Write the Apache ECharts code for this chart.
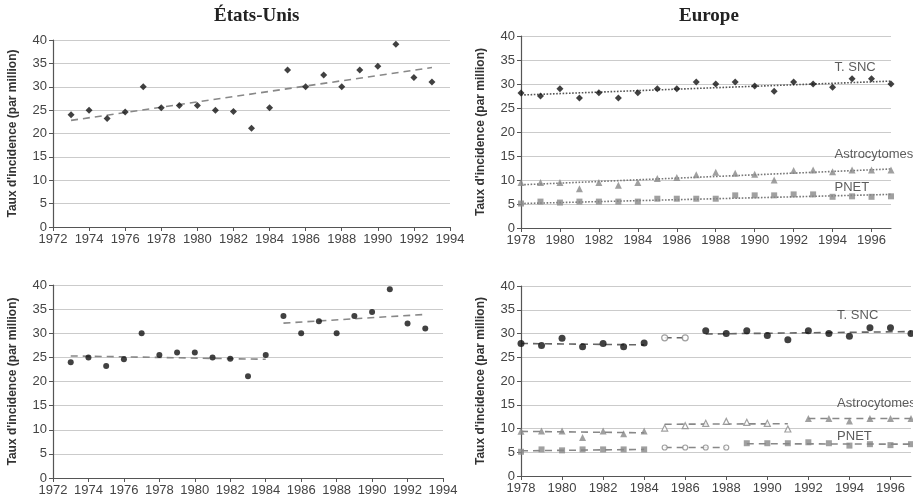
<!DOCTYPE html>
<html><head><meta charset="utf-8">
<script src="https://cdn.jsdelivr.net/npm/echarts@6/dist/echarts.min.js"></script>
<style>html,body{margin:0;padding:0;background:#fff}#c{width:913px;height:502px}</style>
</head><body><div id="c"></div>
<script>
// ---- data ----
const usYears = [1973,1974,1975,1976,1977,1978,1979,1980,1981,1982,1983,1984,1985,1986,1987,1988,1989,1990,1991,1992,1993];
const usRates = [24,25,23.2,24.6,30,25.5,26,26,25,24.7,21.1,25.5,33.6,30,32.5,30,33.6,34.4,39.1,32,31];
const usTrendYears = [1973,1993];
const usTrend = [22.8,34.1];
const usSegYearsA = [1973,1984];
const usSegA = [25.3,24.6];
const usSegYearsB = [1985,1993];
const usSegB = [32.1,33.9];

const euYears = [1978,1979,1980,1981,1982,1983,1984,1985,1986,1987,1988,1989,1990,1991,1992,1993,1994,1995,1996,1997];
const euSnc = [28.1,27.5,29,27.1,28.2,27.1,28.2,29,29,30.4,30,30.4,29.6,28.5,30.4,30,29.3,31.1,31.1,30];
const euAstro = [9.5,9.5,9.5,8.2,9.5,8.9,9.5,10.3,10.5,11.1,11.6,11.4,11.2,10,12,12.1,11.7,12.1,12.1,12.1];
const euPnet = [5.1,5.5,5.3,5.5,5.5,5.5,5.5,6.1,6.1,6.1,6.1,6.8,6.8,6.8,7,7,6.5,6.6,6.5,6.6];
const euTrendYears = [1978,1997];
const euSncTrend = [27.7,30.6];
const euAstroTrend = [9.0,12.3];
const euPnetTrend = [5.1,7.0];

// bottom-right (periods)
const euSnc2 = [27.9,27.5,29,27.2,27.9,27.2,28,29.1,29.1,30.6,30,30.6,29.6,28.7,30.6,30,29.4,31.2,31.2,30];
const euAstro2 = [9.4,9.5,9.5,8.1,9.5,8.9,9.5,10.1,10.6,11.1,11.5,11.3,11.1,9.9,12.1,12.1,11.6,12.1,12.1,12.1];
const euPnet2 = [5.1,5.6,5.4,5.6,5.6,5.6,5.6,6.0,6.0,6.0,6.0,6.9,6.9,6.9,7.1,6.9,6.4,6.7,6.5,6.7];
// period boundaries [startYear, endYear, open?]
const sncPeriods = [[1978,1984,false],[1985,1986,true],[1987,1997,false]];
const astroPeriods = [[1978,1984,false],[1985,1991,true],[1992,1997,false]];
const pnetPeriods = [[1978,1984,false],[1985,1988,true],[1989,1997,false]];
const sncSegs = [[27.9,27.6],[29.1,29.1],[29.9,30.4]];
const astroSegs = [[9.4,9.1],[10.9,11.0],[12.1,12.1]];
const pnetSegs = [[5.3,5.6],[6.0,6.0],[6.8,6.7]];

const titles = ['États-Unis','Europe'];
const yName = "Taux d'incidence (par million)";
const seriesLabels = ['T. SNC','Astrocytomes','PNET'];
const labelPosTop = [[1994.1,33.5],[1994.1,15.4],[1994.1,8.5]];
const labelPosBottom = [[1993.4,33.9],[1993.4,15.2],[1993.4,8.4]];

// ---- build ----
const FONT = 'Liberation Sans, Arial, sans-serif';
const pairs = (xs, ys) => xs.map((x,i)=>[x, ys[i]]);

function xAxis(grid, min, max){
  return {type:'value', gridIndex:grid, min:min, max:max, interval:2,
    axisLine:{show:true, onZero:false, lineStyle:{color:'#555', width:1.2}},
    axisTick:{show:true, length:4, lineStyle:{color:'#555'}},
    axisLabel:{color:'#444', fontSize:13, fontFamily:FONT, margin:6, showMaxLabel: max%2===0,
      formatter: v => String(v)},
    splitLine:{show:false}};
}
function yAxis(grid){
  return {type:'value', gridIndex:grid, min:0, max:40, interval:5,
    name:yName, nameLocation:'middle', nameGap:34,
    nameTextStyle:{fontWeight:'bold', fontSize:12, color:'#333', fontFamily:FONT},
    axisLine:{show:true, lineStyle:{color:'#555', width:1.2}},
    axisTick:{show:true, length:4, lineStyle:{color:'#555'}},
    axisLabel:{color:'#444', fontSize:13, fontFamily:FONT, margin:6},
    splitLine:{show:true, lineStyle:{color:'#cbcbcb', width:1.2}}};
}
function trend(idx, xs, ys, type, color){
  return {type:'line', xAxisIndex:idx, yAxisIndex:idx, data:pairs(xs,ys), symbol:'none',
    lineStyle:{color:color||'#888', width:1.6, type:type}, silent:true, z:2};
}
function pts(idx, data, symbol, size, color, open){
  return {type:'scatter', xAxisIndex:idx, yAxisIndex:idx, data:data, symbol:symbol, symbolSize:size,
    itemStyle: open ? {color:'#fff', borderColor:color, borderWidth:1.2} : {color:color},
    z:3, silent:true};
}
function labels(idx, pos){
  return {type:'scatter', xAxisIndex:idx, yAxisIndex:idx, symbolSize:0, silent:true,
    data: pos.map((p,i)=>({value:p, name:seriesLabels[i]})),
    label:{show:true, position:[0,0], align:'left', verticalAlign:'middle',
      formatter:'{b}', fontSize:13, color:'#333', fontFamily:FONT}};
}

const series = [];
// panel 0: US single trend
series.push(trend(0, usTrendYears, usTrend, [7,5]));
series.push(pts(0, pairs(usYears, usRates), 'diamond', 7, '#111'));
// panel 1: Europe trends
series.push(trend(1, euTrendYears, euSncTrend, 'dotted', '#555'));
series.push(trend(1, euTrendYears, euAstroTrend, 'dotted', '#777'));
series.push(trend(1, euTrendYears, euPnetTrend, 'dotted', '#777'));
series.push(pts(1, pairs(euYears, euSnc), 'diamond', 7, '#111'));
series.push(pts(1, pairs(euYears, euAstro), 'triangle', 7, '#888'));
series.push(pts(1, pairs(euYears, euPnet), 'rect', 6, '#888'));
series.push(labels(1, labelPosTop));
// panel 2: US two periods
series.push(trend(2, usSegYearsA, usSegA, [7,5]));
series.push(trend(2, usSegYearsB, usSegB, [7,5]));
series.push(pts(2, pairs(usYears, usRates), 'circle', 6, '#111'));
// panel 3: Europe periods
function periodSeries(values, periods, segs, filledSym, filledSize, color, openSym, openSize, lineColor){
  periods.forEach((p,k)=>{
    const data = euYears.map((y,i)=>[y, values[i]]).filter(d=>d[0]>=p[0] && d[0]<=p[1]);
    series.push(trend(3, [p[0],p[1]], segs[k], [7,5], lineColor));
    if (p[2]) series.push(pts(3, data, openSym, openSize, '#888', true));
    else series.push(pts(3, data, filledSym, filledSize, color));
  });
}
periodSeries(euSnc2, sncPeriods, sncSegs, 'circle', 7, '#111', 'circle', 6, '#666');
periodSeries(euAstro2, astroPeriods, astroSegs, 'triangle', 7, '#888', 'triangle', 6, '#888');
periodSeries(euPnet2, pnetPeriods, pnetSegs, 'rect', 6, '#888', 'circle', 5, '#888');
series.push(labels(3, labelPosBottom));

const chart = echarts.init(document.getElementById('c'));
chart.setOption({
  animation:false,
  textStyle:{fontFamily:FONT},
  grid:[
    {left:53, top:40, width:397, height:187},
    {left:521, top:36, width:370, height:192},
    {left:53, top:285, width:390, height:193},
    {left:521, top:286, width:390, height:190}
  ],
  xAxis:[xAxis(0,1972,1994), xAxis(1,1978,1997), xAxis(2,1972,1994), xAxis(3,1978,1997)],
  yAxis:[yAxis(0), yAxis(1), yAxis(2), yAxis(3)],
  graphic:[
    {type:'text', left:214, top:7, style:{text:titles[0], font:'bold 19px "Liberation Serif", serif', fill:'#222', textAlign:'center'}},
    {type:'text', left:679, top:7, style:{text:titles[1], font:'bold 19px "Liberation Serif", serif', fill:'#222', textAlign:'center'}}
  ],
  series:series
});
</script></body></html>
